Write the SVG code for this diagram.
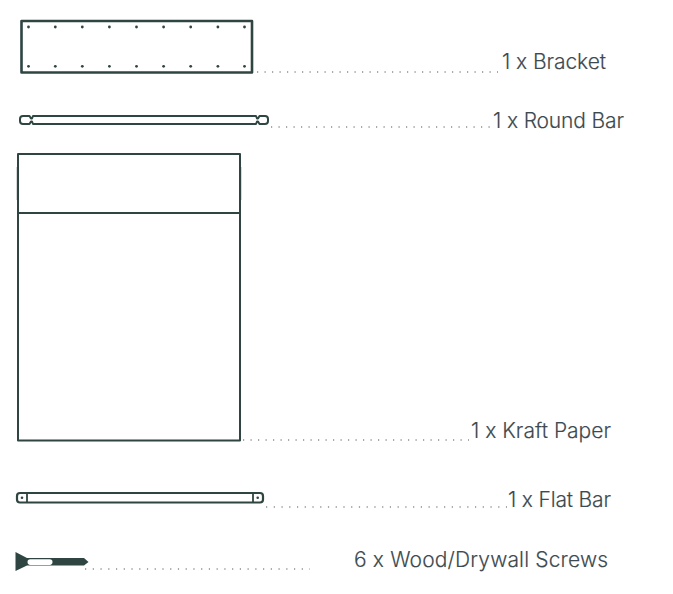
<svg xmlns="http://www.w3.org/2000/svg" width="673" height="594" viewBox="0 0 673 594">
<style>
.o{fill:#fff;stroke:#2f4541;stroke-linejoin:round}
.h{fill:#2f4541}
.l{fill:#3d4a50;font-family:Inter,"Liberation Sans",sans-serif;font-size:21px;font-weight:300;stroke:#3d4a50;stroke-width:.15}
.d{fill:none;stroke:#555;stroke-width:1.2;stroke-dasharray:1.2 6.3}
.w{stroke-dasharray:1.2 6.54}
</style>
<rect width="673" height="594" fill="#fff"/>
<g id="connectors">
<path class="d" d="M257 72H498"/>
<path class="d" d="M271 127H491"/>
<path class="d" d="M243 440H469"/>
<path class="d w" d="M266 507H507"/>
<path class="d w" d="M85 569H310"/>
</g>
<g id="bracket">
<rect class="o" x="21.500" y="21" width="230.500" height="51.500" stroke-width="2.600"/>
<g class="h">
<circle cx="28.500" cy="27" r="1.400"/><circle cx="55.300" cy="27" r="1.400"/><circle cx="82.300" cy="27" r="1.400"/><circle cx="109.400" cy="27" r="1.400"/><circle cx="136.500" cy="27" r="1.400"/><circle cx="163.600" cy="27" r="1.400"/><circle cx="190.700" cy="27" r="1.400"/><circle cx="217.900" cy="27" r="1.400"/><circle cx="244.500" cy="27" r="1.400"/>
<circle cx="28.500" cy="66.300" r="1.400"/><circle cx="55.300" cy="66.300" r="1.400"/><circle cx="82.300" cy="66.300" r="1.400"/><circle cx="109.400" cy="66.300" r="1.400"/><circle cx="136.500" cy="66.300" r="1.400"/><circle cx="163.600" cy="66.300" r="1.400"/><circle cx="190.700" cy="66.300" r="1.400"/><circle cx="217.900" cy="66.300" r="1.400"/><circle cx="244.500" cy="66.300" r="1.400"/>
</g>
</g>
<g id="round-bar">
<path class="o" stroke-width="2" d="M23 116H29.500L31 118.500H32L33 116H256L257 118.500H258L259.500 116H265Q268 116 268 119V121Q268 124 265 124H259.500L258 121.500H257L256 124H33L32 121.500H31L29.500 124H23Q20 124 20 121V119Q20 116 23 116Z"/>
</g>
<g id="kraft-paper">
<rect class="o" x="18" y="154" width="222" height="286.500" stroke-width="2"/>
<path class="o" stroke-width="2.200" d="M18 213H240"/>
<path class="o" stroke-width="1.600" d="M17.600 167V200M240.400 167V200"/>
</g>
<g id="flat-bar">
<rect class="o" x="17" y="493" width="246" height="9.500" rx="3" stroke-width="2.200"/>
<path class="o" stroke-width="1.800" d="M27 493V502.500M253 493V502.500"/>
<circle class="h" cx="22" cy="497.700" r="1.300"/><circle class="h" cx="257.700" cy="497.700" r="1.300"/>
</g>
<g id="screw">
<path class="h" d="M15.500 552L27 558H84L88.500 562L84 565.500H27L15.500 571Z"/>
<rect x="27.500" y="559.300" width="25" height="5.600" rx="2.800" fill="#fff"/>
</g>
<g id="labels">
<text class="l" x="502" y="69" textLength="104">1 x Bracket</text>
<text class="l" x="493" y="128" textLength="131">1 x Round Bar</text>
<text class="l" x="471" y="438" textLength="140">1 x Kraft Paper</text>
<text class="l" x="508" y="507" textLength="103">1 x Flat Bar</text>
<text class="l" x="354" y="567" textLength="254">6 x Wood/Drywall Screws</text>
</g>
</svg>
